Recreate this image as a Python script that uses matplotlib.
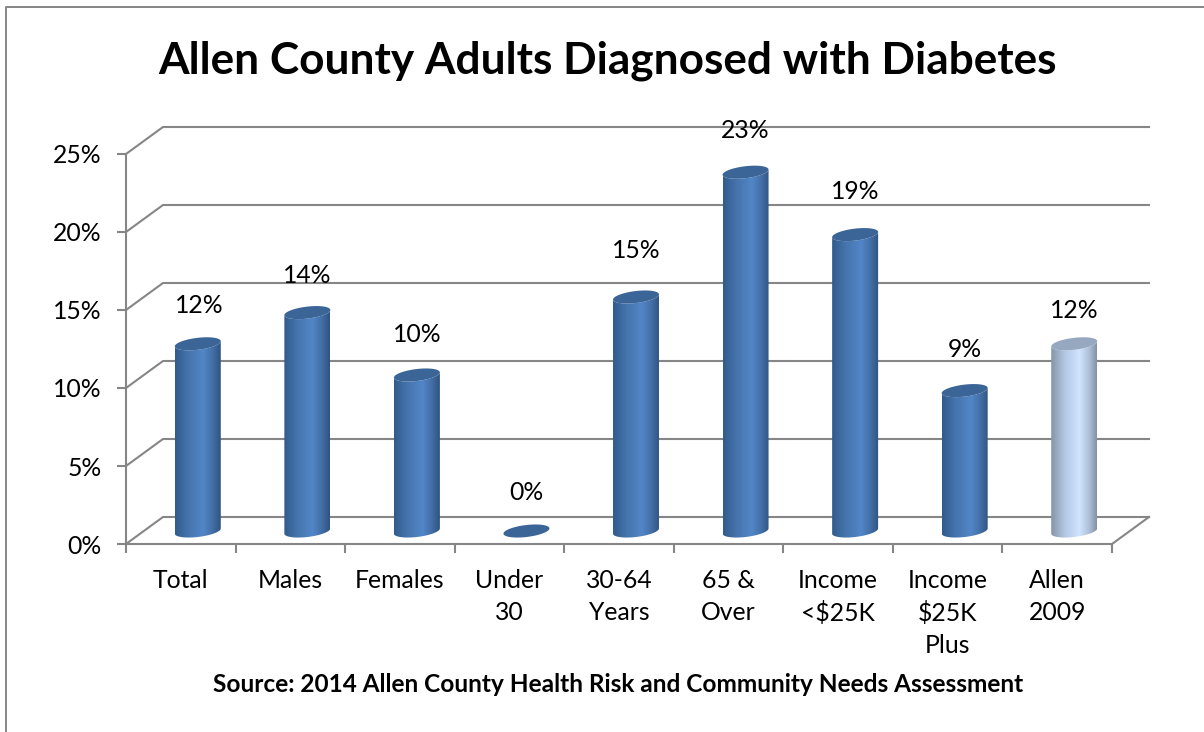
import numpy as np
import matplotlib
matplotlib.use('Agg')
import matplotlib.pyplot as plt
from matplotlib.colors import LinearSegmentedColormap
from matplotlib.lines import Line2D
from matplotlib.patches import Polygon

categories = ['Total', 'Males', 'Females', 'Under\n30', '30-64\nYears', '65 &\nOver',
              'Income\n<$25K', 'Income\n$25K\nPlus', 'Allen\n2009']
values = [12, 14, 10, 0, 15, 23, 19, 9, 12]
y_ticks = [0, 5, 10, 15, 20, 25]

W, H = 1204, 732
GREY = '#868686'
px_x = 986 / 9      # pixels per category
px_y = 390 / 25     # pixels per percent

plt.rcParams['font.family'] = ['Lato', 'DejaVu Sans']

fig = plt.figure(figsize=(W / 100, H / 100), dpi=100)
ax = fig.add_axes([126 / W, (H - 544) / H, 986 / W, 390 / H])

# chart frame (cut off by the screenshot on the right and bottom)
fig.add_artist(Line2D([6 / W, 6 / W, 1], [0, 1 - 7 / H, 1 - 7 / H], color=GREY, lw=1.4))

# 3d walls
back_dx, back_dy = 37 / px_x, 27 / px_y
for t in y_ticks:
    ax.plot([0, back_dx, 9 + back_dx], [t, t + back_dy, t + back_dy],
            color=GREY, lw=1.5, clip_on=False, zorder=1, solid_joinstyle='miter')
ax.plot([9, 9 + back_dx], [0, back_dy], color=GREY, lw=1.5, clip_on=False, zorder=1)

blue = LinearSegmentedColormap.from_list('blue', [(0, '#315b8c'), (0.3, '#4675ad'), (0.62, '#5286c8'),
                                                  (0.82, '#436fa6'), (1, '#2f5380')])
pale = LinearSegmentedColormap.from_list('pale', [(0, '#8493a8'), (0.3, '#b3c8e2'), (0.62, '#d0e4ff'),
                                                  (0.82, '#b0c2da'), (1, '#8392a6')])
grad = np.linspace(0, 1, 256).reshape(1, -1)

# bars are cylinders, sitting half way into the floor depth
bar_dx, bar_dy = 17 / px_x, 13 / px_y
half = 23 / px_x
rim = 6 / px_y
tilt = 2.6 / px_y
th = np.linspace(0, 2 * np.pi, 80)


def ring(cx, cy, angles):
    return cx + half * np.cos(angles), cy + rim * np.sin(angles) + tilt * np.cos(angles)


nudge = [38, 37, 40, 38, 46, 42, 43, 41, 33]
label_dx = [1, 0, 0, 0, 0, 0, 0, 0, 0]
for i, v in enumerate(values):
    cx = i + 0.5 + bar_dx
    last = i == len(values) - 1
    cmap = pale if last else blue
    top_col = '#96a8c0' if last else '#3b6597'
    tx, ty = ring(cx, bar_dy + v, th)
    if v > 0:
        lower = th[th >= np.pi]
        lx, ly = ring(cx, bar_dy, lower)
        ux, uy = ring(cx, bar_dy + v, lower[::-1])
        body = Polygon(np.column_stack([np.r_[lx, ux], np.r_[ly, uy]]), transform=ax.transData,
                       fc='none', ec='none')
        ax.add_patch(body)
        im = ax.imshow(grad, extent=[cx - half, cx + half, bar_dy - 1, bar_dy + v + 1], aspect='auto',
                       cmap=cmap, vmin=0, vmax=1, zorder=3)
        im.set_clip_path(body)
    ax.fill(tx, ty, color=top_col, lw=0, zorder=4, clip_on=False)
    ax.annotate(f'{v}%', (cx, bar_dy + v), xytext=(label_dx[i], nudge[i]), textcoords='offset pixels',
                ha='center', va='center', fontsize=17.8, color='black', zorder=5)

ax.set_xlim(0, 9)
ax.set_ylim(0, 25)
ax.patch.set_visible(False)
for s in ['top', 'right']:
    ax.spines[s].set_visible(False)
for s in ['left', 'bottom']:
    ax.spines[s].set_color(GREY)
    ax.spines[s].set_linewidth(1.5)

ax.set_yticks(y_ticks)
ax.set_yticklabels([f'{t}%' for t in y_ticks], fontsize=17.8)
ax.tick_params(axis='y', length=6.5, width=1.5, color=GREY, pad=11)
ax.set_xticks(range(10))
ax.set_xticklabels([])
ax.tick_params(axis='x', which='major', length=6.5, width=1.5, color=GREY)
ax.set_xticks(np.arange(9) + 0.5, minor=True)
ax.set_xticklabels(categories, minor=True, fontsize=17.8, linespacing=1.46)
ax.tick_params(axis='x', which='minor', length=0, pad=18)

fig.text(608 / W, 1 - 61 / H, 'Allen County Adults Diagnosed with Diabetes', ha='center', va='center',
         fontsize=31.8, fontweight='bold')
fig.text(618 / W, 1 - 685 / H, 'Source: 2014 Allen County Health Risk and Community Needs Assessment',
         ha='center', va='center', fontsize=17.6, fontweight='bold')

fig.savefig('out.png', dpi=100)
